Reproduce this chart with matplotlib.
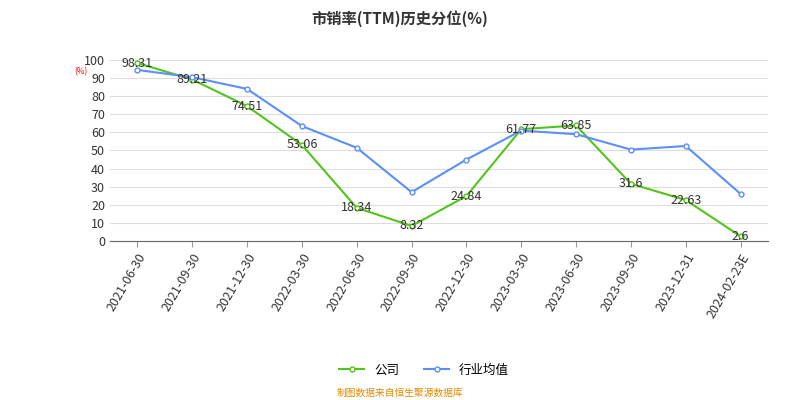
import matplotlib.pyplot as plt

plt.rcParams['font.family'] = ['Noto Sans CJK SC', 'DejaVu Sans']

dates = ['2021-06-30', '2021-09-30', '2021-12-30', '2022-03-30', '2022-06-30', '2022-09-30',
         '2022-12-30', '2023-03-30', '2023-06-30', '2023-09-30', '2023-12-31', '2024-02-23E']
company = [98.31, 89.21, 74.51, 53.06, 18.34, 8.32, 24.84, 61.77, 63.85, 31.6, 22.63, 2.6]
industry = [94.5, 90.5, 84.0, 63.5, 51.5, 27.0, 45.0, 61.0, 59.0, 50.5, 52.5, 26.0]
labels = ['98.31', '89.21', '74.51', '53.06', '18.34', '8.32', '24.84', '61.77', '63.85', '31.6', '22.63', '2.6']

fig = plt.figure(figsize=(8, 4), dpi=100)
ax = fig.add_axes([0.1375, 0.3975, 0.8225, 0.4525])

x = list(range(len(dates)))
ax.plot(x, company, color='#52c41a', lw=1.5, marker='o', ms=3.5, mfc='white', mec='#52c41a', label='公司', zorder=3)
ax.plot(x, industry, color='#5b8ff9', lw=1.5, marker='o', ms=3.5, mfc='white', mec='#5b8ff9', label='行业均值', zorder=3)
for xi, v, t in zip(x, company, labels):
    ax.text(xi, v, t, ha='center', va='center', fontsize=9, color='#333333', zorder=4)

ax.set_xlim(-0.5, len(dates) - 0.5)
ax.set_ylim(0, 100)
ax.set_yticks(range(0, 101, 10))
ax.set_xticks(x)
ax.set_xticklabels(dates, rotation=60, ha='right', rotation_mode='anchor', fontsize=9, color='#333333')
ax.tick_params(axis='y', labelsize=9, colors='#333333', length=0)
ax.tick_params(axis='x', length=4, color='#999999')
ax.grid(axis='y', color='#dddddd', lw=0.8)
for s in ['top', 'right', 'left']:
    ax.spines[s].set_visible(False)
ax.spines['bottom'].set_color('#666666')
ax.text(-0.045, 0.92, '(%)', transform=ax.transAxes, fontsize=6, color='red', ha='center')

fig.suptitle('市销率(TTM)历史分位(%)', y=0.975, fontsize=11, fontweight='bold', color='#333333')
fig.legend(loc='lower center', bbox_to_anchor=(0.53, 0.03), ncol=2, frameon=False, fontsize=9)
fig.text(0.5, 0.01, '制图数据来自恒生聚源数据库', ha='center', fontsize=7, color='#e08a00')

fig.savefig('out.png')
